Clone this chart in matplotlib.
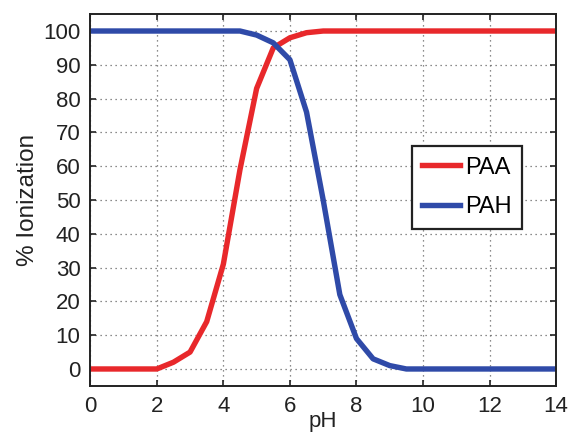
import matplotlib
matplotlib.use("Agg")
import matplotlib.pyplot as plt
import numpy as np

plt.rcParams["font.family"] = ["Liberation Sans", "DejaVu Sans"]

# Data
ph = [0, 0.5, 1, 1.5, 2, 2.5, 3, 3.5, 4, 4.5, 5, 5.5, 6, 6.5, 7, 7.5, 8,
      8.5, 9, 9.5, 10, 10.5, 11, 11.5, 12, 12.5, 13, 13.5, 14]
paa = [0, 0, 0, 0, 0, 2, 5, 14, 31, 59, 83, 95, 98, 99.5, 100, 100, 100,
       100, 100, 100, 100, 100, 100, 100, 100, 100, 100, 100, 100]
pah = [100, 100, 100, 100, 100, 100, 100, 100, 100, 100, 98.8, 96.5, 91.5, 76, 50, 22, 9,
       3, 1, 0, 0, 0, 0, 0, 0, 0, 0, 0, 0]

x_ticks = np.arange(0, 15, 2)
y_ticks = np.arange(0, 101, 10)

fig = plt.figure(figsize=(5.71, 4.41), dpi=100)
ax = fig.add_axes([0.158, 0.125, 0.816, 0.843])

ax.plot(ph, paa, color="#e8282b", lw=3.9, label="PAA")
ax.plot(ph, pah, color="#2f4aa8", lw=3.9, label="PAH")

ax.set_xlim(0, 14)
ax.set_ylim(-5, 105)
ax.set_xticks(x_ticks)
ax.set_yticks(y_ticks)
ax.tick_params(direction="in", top=True, right=True, labelsize=16, length=4, width=1.2,
               colors="#222222", pad=7)
ax.grid(True, linestyle=(0, (1, 3)), color="#666666", linewidth=0.9)
for s in ax.spines.values():
    s.set_linewidth(1.4)
    s.set_color("#222222")

ax.set_xlabel("pH", fontsize=16, labelpad=-4, color="#222222")
ax.set_ylabel("% Ionization", fontsize=17.5, labelpad=3, color="#222222")

leg = ax.legend(loc="upper left", bbox_to_anchor=(0.69, 0.645), borderaxespad=0,
                fontsize=17, fancybox=False, edgecolor="#222222", framealpha=1,
                handlelength=1.6, handletextpad=0.2, borderpad=0.45, labelspacing=0.75)
leg.get_frame().set_linewidth(1.6)

fig.savefig("out.png", dpi=100)
